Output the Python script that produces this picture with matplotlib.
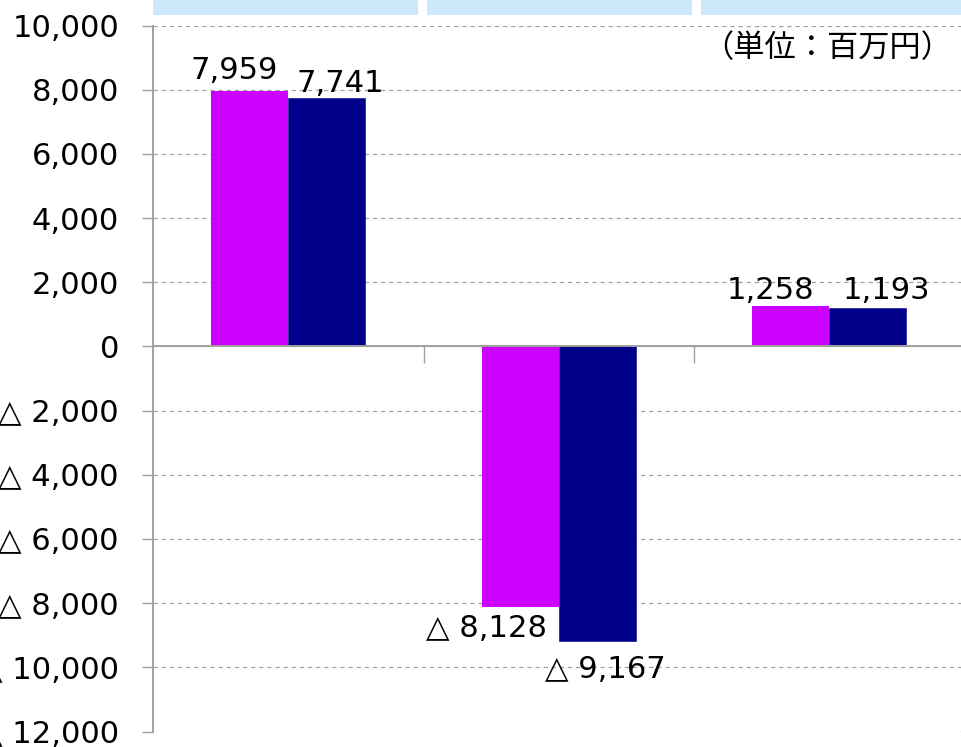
import matplotlib
matplotlib.use("Agg")
import matplotlib.pyplot as plt
from matplotlib.patches import Rectangle
from matplotlib.ticker import FuncFormatter, FixedLocator
import numpy as np

# ---- data (単位：百万円) ----
categories = ["A", "B", "C"]
series_prev = [7959, -8128, 1258]
series_curr = [7741, -9167, 1193]
y_ticks = list(range(-12000, 10001, 2000))

FONTS = ["DejaVu Sans", "Noto Sans CJK JP"]
plt.rcParams["font.family"] = FONTS

W, H = 961, 747
fig = plt.figure(figsize=(W / 100, H / 100), dpi=100)
fig.patch.set_facecolor("white")

# plot area runs slightly past the right edge of the figure
ax = fig.add_axes([153 / W, 15.5 / H, 811.5 / W, 706 / H])

x = np.arange(len(categories))
bw = 0.285
c_prev = "#CC00FF"
c_curr = "#00008B"

ax.bar(x - bw / 2, series_prev, width=bw, color=c_prev, zorder=3)
ax.bar(x + bw / 2, series_curr, width=bw, color=c_curr, edgecolor="#2B2BA0",
       linewidth=0.6, zorder=3)

ax.set_xlim(-0.5, 2.5)
ax.set_ylim(-12000, 10000)


def fmt_val(v):
    return f"△ {abs(v):,.0f}" if v < 0 else f"{v:,.0f}"


ax.yaxis.set_major_locator(FixedLocator(y_ticks))
ax.yaxis.set_major_formatter(FuncFormatter(lambda v, p: fmt_val(v)))
ax.xaxis.set_major_locator(FixedLocator([0.5, 1.5, 2.5]))
ax.set_xticklabels([])

grey = "#A0A0A0"
for s in ("top", "right"):
    ax.spines[s].set_visible(False)
ax.spines["bottom"].set_position(("data", 0))
ax.spines["bottom"].set_color(grey)
ax.spines["bottom"].set_linewidth(1.4)
ax.spines["left"].set_color(grey)
ax.spines["left"].set_linewidth(1.4)
ax.spines["bottom"].set_zorder(4)

LABEL_SIZE = 22.1
ax.tick_params(axis="y", direction="out", length=8, width=1.0, color=grey,
               pad=16.5, labelsize=LABEL_SIZE)
ax.tick_params(axis="x", direction="out", length=12.5, width=1.0, color=grey)
for lab in ax.get_yticklabels():
    lab.set_family(FONTS)

ax.set_axisbelow(True)
ax.yaxis.grid(True, color=grey, linestyle=(0, (3.5, 3)), linewidth=0.9)

# value labels (pixel offsets from the bar end)
offsets_prev = [(-15.5, 11.5), (-33.5, -30), (-20, 7.5)]
offsets_curr = [(14, 6), (8.5, -37), (19, 9)]
for xs, vals, offs in ((x - bw / 2, series_prev, offsets_prev),
                       (x + bw / 2, series_curr, offsets_curr)):
    for xi, v, (dx, dy) in zip(xs, vals, offs):
        ax.annotate(fmt_val(v), (xi, v), xytext=(dx, dy),
                    textcoords="offset pixels", ha="center", va="baseline",
                    fontsize=LABEL_SIZE, family=FONTS, color="black", zorder=5)

# unit note
fig.text(952 / W, 1 - 48 / H, "（単位：百万円）", ha="right", va="center",
         fontsize=22.5, family=["Noto Sans CJK JP", "DejaVu Sans"], color="black")

# header strips along the top edge
strip_col = "#CCE8FA"
for x0, x1 in ((153, 418), (427, 692), (701, 970)):
    fig.add_artist(Rectangle((x0 / W, 1 - 14.7 / H), (x1 - x0) / W, 14.7 / H,
                             transform=fig.transFigure, facecolor=strip_col,
                             edgecolor="none"))

fig.savefig("out.png", dpi=100, facecolor="white")
